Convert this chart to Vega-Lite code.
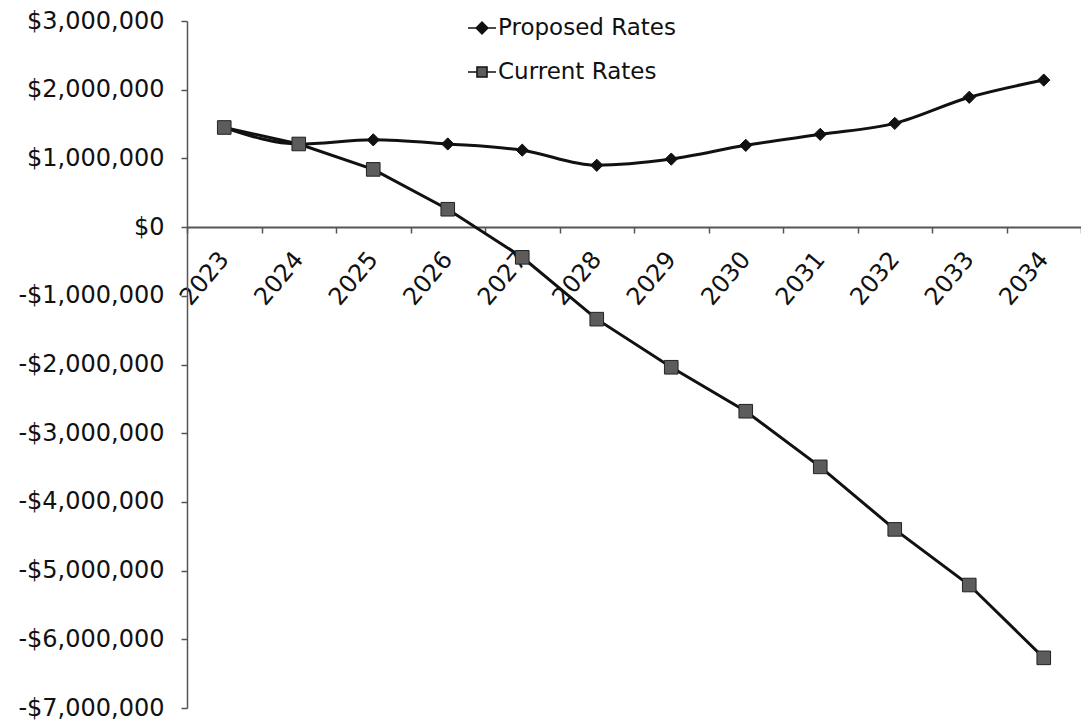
{
  "$schema": "https://vega.github.io/schema/vega-lite/v6.json",
  "width": 894,
  "height": 687,
  "autosize": {"type": "none"},
  "padding": {"left": 187, "top": 21, "right": 0, "bottom": 15},
  "background": "white",
  "config": {
    "view": {"stroke": null},
    "font": "DejaVu Sans"
  },
  "data": {
    "values": [
      {"year": "2023", "series": "Proposed Rates", "value": 1450000},
      {"year": "2024", "series": "Proposed Rates", "value": 1210000},
      {"year": "2025", "series": "Proposed Rates", "value": 1270000},
      {"year": "2026", "series": "Proposed Rates", "value": 1210000},
      {"year": "2027", "series": "Proposed Rates", "value": 1120000},
      {"year": "2028", "series": "Proposed Rates", "value": 900000},
      {"year": "2029", "series": "Proposed Rates", "value": 990000},
      {"year": "2030", "series": "Proposed Rates", "value": 1190000},
      {"year": "2031", "series": "Proposed Rates", "value": 1350000},
      {"year": "2032", "series": "Proposed Rates", "value": 1510000},
      {"year": "2033", "series": "Proposed Rates", "value": 1890000},
      {"year": "2034", "series": "Proposed Rates", "value": 2140000},
      {"year": "2023", "series": "Current Rates", "value": 1450000},
      {"year": "2024", "series": "Current Rates", "value": 1210000},
      {"year": "2025", "series": "Current Rates", "value": 840000},
      {"year": "2026", "series": "Current Rates", "value": 260000},
      {"year": "2027", "series": "Current Rates", "value": -440000},
      {"year": "2028", "series": "Current Rates", "value": -1340000},
      {"year": "2029", "series": "Current Rates", "value": -2040000},
      {"year": "2030", "series": "Current Rates", "value": -2680000},
      {"year": "2031", "series": "Current Rates", "value": -3490000},
      {"year": "2032", "series": "Current Rates", "value": -4400000},
      {"year": "2033", "series": "Current Rates", "value": -5210000},
      {"year": "2034", "series": "Current Rates", "value": -6270000}
    ]
  },
  "encoding": {
    "x": {
      "field": "year",
      "type": "ordinal",
      "sort": null,
      "title": null,
      "scale": {"type": "band", "paddingInner": 0, "paddingOuter": 0},
      "axis": {
        "orient": "bottom",
        "offset": -481,
        "tickBand": "extent",
        "domainColor": "#555555",
        "domainWidth": 2,
        "tickColor": "#555555",
        "tickWidth": 1.5,
        "tickSize": 6,
        "labelAngle": -50,
        "labelAlign": "right",
        "labelBaseline": "middle",
        "labelPadding": 22,
        "labelFont": "DejaVu Sans",
        "labelFontSize": 24,
        "labelColor": "#111111"
      }
    },
    "y": {
      "field": "value",
      "type": "quantitative",
      "title": null,
      "scale": {"domain": [-7000000, 3000000], "nice": false, "zero": false},
      "axis": {
        "values": [-7000000, -6000000, -5000000, -4000000, -3000000, -2000000, -1000000, 0, 1000000, 2000000, 3000000],
        "grid": false,
        "domainColor": "#555555",
        "domainWidth": 1.5,
        "tickColor": "#555555",
        "tickWidth": 1.5,
        "tickSize": 6,
        "labelPadding": 17,
        "labelFont": "DejaVu Sans",
        "labelFontSize": 24,
        "labelColor": "#111111",
        "labelExpr": "datum.value < 0 ? '-$' + format(-datum.value, ',') : '$' + format(datum.value, ',')"
      }
    }
  },
  "layer": [
    {
      "transform": [{"filter": "datum.series === 'Proposed Rates'"}],
      "mark": {"type": "line", "interpolate": "monotone", "color": "#111111", "strokeWidth": 3}
    },
    {
      "transform": [{"filter": "datum.series === 'Current Rates'"}],
      "mark": {"type": "line", "interpolate": "linear", "color": "#111111", "strokeWidth": 3}
    },
    {
      "transform": [{"filter": "datum.series === 'Proposed Rates'"}],
      "mark": {"type": "point", "shape": "diamond", "filled": true, "fill": "#111111", "stroke": "#111111", "strokeWidth": 1, "size": 150, "opacity": 1}
    },
    {
      "transform": [{"filter": "datum.series === 'Current Rates'"}],
      "mark": {"type": "point", "shape": "square", "filled": true, "fill": "#5c5c5c", "stroke": "#222222", "strokeWidth": 1, "size": 185, "opacity": 1}
    },
    {
      "mark": {"type": "point", "filled": true, "opacity": 0, "stroke": "#111111", "strokeWidth": 2},
      "encoding": {
        "shape": {
          "field": "series",
          "scale": {
            "domain": ["Proposed Rates", "Current Rates"],
            "range": [
              "M-1,0H-0.42M0.42,0H1M-0.42,0L0,-0.42L0.42,0L0,0.42Z",
              "M-1,0H-0.36M0.36,0H1M-0.36,-0.36H0.36V0.36H-0.36Z"
            ]
          },
          "title": null,
          "legend": {
            "orient": "none",
            "legendX": 280,
            "legendY": -8,
            "direction": "vertical",
            "symbolSize": 784,
            "symbolOpacity": 1,
            "rowPadding": 17,
            "labelOffset": 1,
            "labelFont": "DejaVu Sans",
            "labelFontSize": 23,
            "labelColor": "#111111",
            "labelLimit": 400,
            "encode": {
              "symbols": {
                "update": {
                  "stroke": {"value": "#111111"},
                  "strokeWidth": {"value": 2.5},
                  "opacity": {"value": 1}
                }
              }
            }
          }
        },
        "fill": {
          "field": "series",
          "scale": {"domain": ["Proposed Rates", "Current Rates"], "range": ["#111111", "#5c5c5c"]},
          "title": null
        }
      }
    }
  ]
}
